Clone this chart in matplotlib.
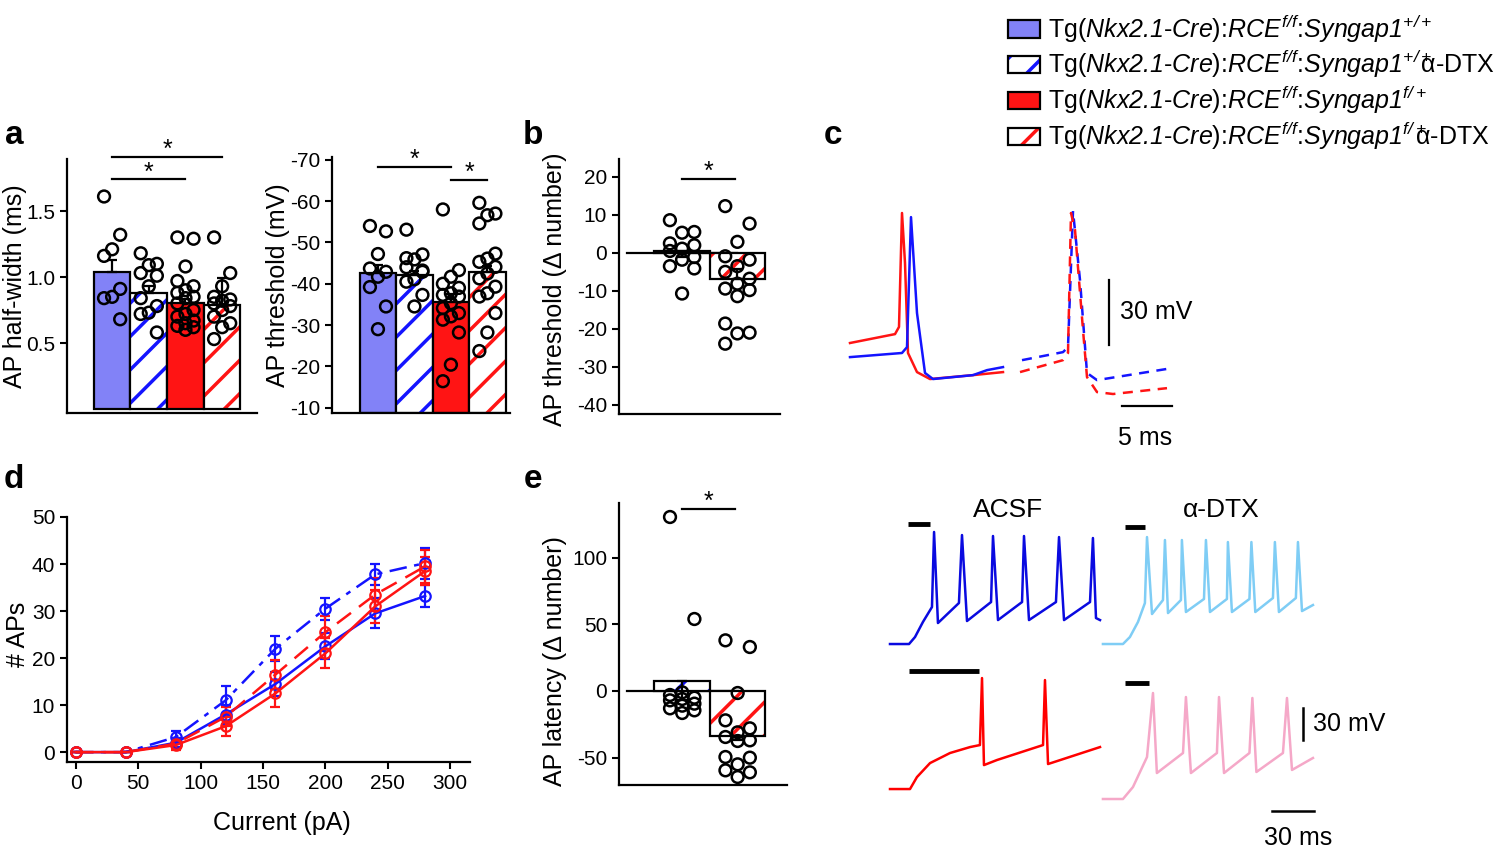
import numpy as np
import matplotlib.pyplot as plt
from matplotlib.patches import Patch

plt.rcParams['font.family'] = ['Liberation Sans', 'DejaVu Sans']
plt.rcParams['mathtext.fontset'] = 'custom'
plt.rcParams['mathtext.rm'] = 'Liberation Sans:italic'
plt.rcParams['mathtext.it'] = 'Liberation Sans:italic'
plt.rcParams['axes.unicode_minus'] = False
plt.rcParams['hatch.linewidth'] = 2.5

BLUE_FILL = '#8282f7'
BLUE = '#1414ff'
RED = '#ff1414'

# ---------------- data ----------------
# a: AP half-width (ms)
hw_mean = [1.04, 0.88, 0.80, 0.79]
hw_err = [0.09, 0.05, 0.03, 0.20]
hw_pts = [
    [1.61, 1.32, 1.21, 1.16, 0.91, 0.85, 0.84, 0.68],
    [1.18, 1.10, 1.09, 1.03, 1.01, 0.93, 0.84, 0.78, 0.73, 0.72, 0.58],
    [1.30, 1.29, 1.08, 0.97, 0.93, 0.90, 0.88, 0.85, 0.84, 0.80, 0.75, 0.72,
     0.70, 0.67, 0.65, 0.63, 0.62, 0.60],
    [1.30, 1.03, 0.93, 0.85, 0.83, 0.82, 0.80, 0.78, 0.75, 0.70, 0.65, 0.62, 0.53],
]
# a: AP threshold (mV)
th_mean = [-42.5, -42.1, -35.7, -42.8]
th_err = [-2.0, -1.0, -1.8, -1.5]
th_pts = [
    [-54.0, -52.7, -47.2, -43.7, -42.9, -41.7, -39.2, -34.5, -29.0],
    [-53.1, -47.1, -45.9, -44.0, -42.9, -41.1, -40.5, -37.3, -34.5, -46.2, -43.2],
    [-58.0, -43.3, -41.7, -40.0, -39.0, -37.7, -37.3, -36.9, -35.3, -34.1,
     -32.9, -32.1, -31.3, -28.2, -20.4, -16.4],
    [-59.6, -57.0, -56.6, -54.6, -47.3, -46.1, -45.3, -44.1, -42.5, -41.3,
     -39.3, -37.7, -36.9, -32.9, -28.2, -23.7],
]
# b: AP threshold (delta number)
dth_mean = [0.4, -6.8]
dth_err = [-1.5, 2.5]
dth_pts = [
    [8.6, 5.5, 5.3, 2.5, 2.0, 1.1, 0.5, -1.1, -1.8, -3.5, -4.1, -10.7],
    [12.3, 7.7, 2.9, -0.9, -1.8, -3.5, -5.0, -6.8, -8.1, -9.4, -9.8, -11.4,
     -18.6, -21.0, -21.2, -23.9],
]
# d: # APs vs current
current = [0, 40, 80, 120, 160, 200, 240, 280]
aps_wt = [0, 0, 2.0, 8.0, 14.5, 22.5, 29.5, 33.2]
aps_wt_err = [0, 0, 1.0, 2.0, 2.5, 2.8, 3.2, 2.3]
aps_wt_dtx = [0, 0, 3.2, 11.0, 22.0, 30.5, 37.8, 40.2]
aps_wt_dtx_err = [0, 0, 1.2, 3.0, 2.7, 2.3, 2.3, 3.3]
aps_het = [0, 0, 1.5, 5.5, 12.5, 21.0, 31.0, 38.5]
aps_het_err = [0, 0, 1.0, 2.0, 2.8, 3.2, 3.5, 3.0]
aps_het_dtx = [0, 0, 1.8, 7.5, 16.5, 25.5, 33.5, 39.5]
aps_het_dtx_err = [0, 0, 1.0, 2.0, 3.0, 3.5, 3.5, 3.5]
# e: AP latency (delta number)
lat_mean = [7.5, -33.7]
lat_err = [-14.5, -3.0]
lat_pts = [
    [130.5, 54.0, -1.0, -3.0, -5.0, -6.0, -7.0, -9.5, -11.0, -13.0, -14.5, -16.5],
    [38.0, 33.0, -1.5, -22.0, -28.0, -31.0, -34.5, -37.0, -37.5, -49.5, -50.0,
     -55.0, -59.5, -61.0, -64.5],
]

# c: single AP traces (ms, mV)
c_red_t = [1.0, 5.5, 5.9, 6.2, 6.5, 6.8, 7.7, 9.0, 13.3, 16.3]
c_red_v = [-46.1, -42.0, -38.7, 13.8, -9.2, -50.7, -59.5, -62.7, -60.9, -59.5]
c_blue_t = [1.0, 6.2, 6.7, 7.1, 7.7, 8.5, 9.3, 13.3, 14.7, 16.3]
c_blue_v = [-52.6, -50.7, -48.0, 11.9, -32.3, -59.9, -62.7, -60.9, -58.6, -57.2]
c_red_dtx_t = [18.0, 22.3, 22.8, 23.1, 23.5, 24.3, 24.7, 25.7, 27.3, 32.7]
c_red_dtx_v = [-59.5, -54.0, -50.7, 13.8, 6.0, -40.1, -61.8, -68.7, -69.6, -66.9]
c_blue_dtx_t = [18.2, 22.3, 22.8, 23.3, 24.0, 24.7, 25.7, 33.3]
c_blue_dtx_v = [-54.0, -50.3, -48.0, 14.7, -17.1, -59.9, -63.2, -57.6]

# firing traces (ms, mV relative to baseline)
acsf_wt_t = [0, 13.7, 18.0, 23.7, 30.2, 31.7, 34.5, 49.6, 51.8, 55.4, 72.7, 74.1,
             77.7, 95.0, 96.4, 100.0, 119.4, 121.6, 125.2, 143.9, 146.0, 148.2, 151.1]
acsf_wt_v = [0, 0, 6.6, 20.8, 34.9, 105.7, 19.8, 38.7, 102.8, 21.7, 39.6, 101.9,
             22.6, 39.6, 101.9, 22.6, 39.6, 100.9, 22.6, 39.6, 100.0, 24.5, 22.6]
dtx_wt_t = [0, 14.4, 19.4, 25.2, 30.2, 31.7, 35.3, 43.2, 44.6, 46.8, 56.1, 56.8,
            59.7, 72.7, 74.1, 77.0, 89.2, 89.9, 92.8, 105.4, 106.8, 109.6, 122.3,
            123.7, 126.6, 138.8, 140.3, 143.2, 151.1]
dtx_wt_v = [0, 0, 6.6, 20.8, 38.7, 100.9, 28.3, 41.5, 98.1, 29.2, 41.5, 98.1,
            30.2, 42.5, 98.1, 30.2, 42.5, 96.2, 30.2, 42.5, 96.2, 30.2, 43.4,
            96.2, 30.2, 43.4, 96.2, 31.1, 36.8]
acsf_het_t = [0, 14.4, 19.4, 28.8, 43.2, 57.6, 64.7, 66.2, 67.6, 77.0, 110.1,
              111.5, 113.7, 151.1]
acsf_het_v = [0, 0, 11.3, 24.5, 34.0, 39.6, 41.5, 104.7, 22.6, 27.4, 41.5,
              102.8, 23.6, 39.6]
dtx_het_t = [0, 14.4, 21.6, 31.7, 36.0, 38.8, 57.6, 59.7, 63.3, 82.0, 83.5, 87.1,
             105.4, 107.5, 110.4, 129.5, 132.4, 136.0, 151.1]
dtx_het_v = [0, 0, 11.3, 39.6, 100.0, 24.5, 43.4, 96.2, 24.5, 43.4, 96.2, 24.5,
             43.4, 95.3, 25.5, 43.4, 95.3, 27.4, 38.7]
# first-spike latency bars: start, end (ms), height (mV)
lat_bar_wt = (13.0, 28.8, 113.2)
lat_bar_wt_dtx = (15.8, 30.2, 110.4)
lat_bar_het = (13.7, 64.0, 111.3)
lat_bar_het_dtx = (15.8, 33.1, 109.4)

prefix = r'Tg($Nkx2.1$-$Cre$):$RCE^{f/f}$:'
labels = [
    prefix + r'$Syngap1^{+/+}$',
    prefix + r'$Syngap1^{+/+}\hspace{-1.0}$ α-DTX',
    prefix + r'$Syngap1^{f/+}$',
    prefix + r'$Syngap1^{f/+}\hspace{-1.0}$ α-DTX',
]
styles = [('fill', BLUE_FILL), ('hatch', BLUE), ('fill', RED), ('hatch', RED)]

# ---------------- helpers ----------------
W, H = 1500, 850


def rect(l, t, r, b):
    return [l / W, 1 - b / H, (r - l) / W, (b - t) / H]


def style(ax):
    for s in ['top', 'right']:
        ax.spines[s].set_visible(False)
    for s in ['left', 'bottom']:
        ax.spines[s].set_linewidth(1.6)
    ax.tick_params(direction='out', length=5, width=1.5, labelsize=15)


def draw_bars(ax, xs, means, errs, kinds, base=0.0):
    for x, m, e, (kind, c) in zip(xs, means, errs, kinds):
        h = m - base
        if kind == 'fill':
            ax.bar(x, h, 1, bottom=base, color=c, edgecolor='k', lw=1.6, zorder=2)
        else:
            ax.bar(x, h, 1, bottom=base, color='white', edgecolor=c, hatch='/',
                   lw=0, zorder=2)
            ax.bar(x, h, 1, bottom=base, fill=False, edgecolor='k', lw=1.6, zorder=2)
        yerr = [[0], [e]] if e > 0 else [[-e], [0]]
        ax.errorbar(x, m, yerr=yerr, color='k', lw=1.6, capsize=3.5,
                    capthick=1.6, zorder=4)


def draw_points(ax, xs, pts):
    for x, p in zip(xs, pts):
        offs = np.resize([-0.22, 0.22, 0.0], len(p))
        ax.scatter(x + offs, p, s=72, facecolors='none', edgecolors='k',
                   linewidths=1.8, zorder=3, clip_on=False)


def sig(ax, x0, x1, y):
    ax.plot([x0, x1], [y, y], color='k', lw=1.6, clip_on=False)
    ax.annotate('*', ((x0 + x1) / 2, y), xytext=(0, 5), textcoords='offset points',
                ha='center', va='center', fontsize=18, annotation_clip=False)


fig = plt.figure(figsize=(15, 8.5), dpi=100)

# ---------------- a (half-width) ----------------
ax = fig.add_axes(rect(67, 159, 257, 413))
style(ax)
x4 = np.arange(4)
draw_bars(ax, x4, hw_mean, hw_err, styles)
draw_points(ax, x4, hw_pts)
ax.set_xlim(-1.23, 3.95)
ax.set_ylim(-0.03, 1.894)
ax.set_xticks([])
ax.set_yticks([0.5, 1.0, 1.5])
ax.set_ylabel('AP half-width (ms)', fontsize=18)
ax.yaxis.set_label_coords(-0.21, 0.5)
sig(ax, 0, 3, 1.91)
sig(ax, 0, 2, 1.74)

# ---------------- a (threshold) ----------------
ax = fig.add_axes(rect(332, 157, 510, 413))
style(ax)
draw_bars(ax, x4, th_mean, th_err, styles, base=-8.7)
draw_points(ax, x4, th_pts)
ax.set_xlim(-1.26, 3.62)
ax.set_ylim(-8.7, -70.7)
ax.set_xticks([])
ax.set_yticks(np.arange(-70, -9, 10))
ax.set_ylabel('AP threshold (mV)', fontsize=18)
ax.yaxis.set_label_coords(-0.235, 0.5)
sig(ax, 0, 2, -68.3)
sig(ax, 2, 3, -65.2)

# ---------------- b ----------------
ax = fig.add_axes(rect(619, 159, 780, 414))
style(ax)
ax.plot([-1.0, 1.0], [0, 0], color='k', lw=1.6, zorder=1)
draw_bars(ax, [0, 1], dth_mean, dth_err, [styles[1], styles[3]])
draw_points(ax, [0, 1], dth_pts)
ax.set_xlim(-1.14, 1.77)
ax.set_ylim(-42.4, 24.7)
ax.set_xticks([])
ax.set_yticks(np.arange(-40, 21, 10))
ax.set_ylabel('AP threshold (Δ number)', fontsize=18)
ax.yaxis.set_label_coords(-0.32, 0.49)
sig(ax, 0, 0.95, 19.5)

# ---------------- d ----------------
ax = fig.add_axes(rect(67, 517, 470, 762))
style(ax)
series = [
    (aps_wt, aps_wt_err, BLUE, '-'),
    (aps_wt_dtx, aps_wt_dtx_err, BLUE, (0, (7, 3, 2, 3))),
    (aps_het, aps_het_err, RED, '-'),
    (aps_het_dtx, aps_het_dtx_err, RED, (0, (7, 4))),
]
for vals, errs, c, ls in series:
    ax.errorbar(current, vals, yerr=errs, color=c, ls=ls, lw=1.8, marker='o',
                ms=7.5, mfc='none', mew=1.6, capsize=3.5, capthick=1.6,
                elinewidth=1.6, clip_on=False)
ax.set_xlim(-7.2, 316)
ax.set_ylim(-2.1, 50)
ax.set_xticks(np.arange(0, 301, 50))
ax.set_yticks(np.arange(0, 51, 10))
ax.set_ylabel('# APs', fontsize=18)
ax.yaxis.set_label_coords(-0.092, 0.52)
ax.set_xlabel('Current (pA)', fontsize=18)
ax.xaxis.set_label_coords(0.533, -0.2)

# ---------------- e ----------------
ax = fig.add_axes(rect(619, 503, 787, 785))
style(ax)
ax.plot([-1.0, 1.0], [0, 0], color='k', lw=1.6, zorder=1)
draw_bars(ax, [0, 1], lat_mean, lat_err, [styles[1], styles[3]])
draw_points(ax, [0, 1], lat_pts)
ax.set_xlim(-1.14, 1.89)
ax.set_ylim(-70.5, 141)
ax.set_xticks([])
ax.set_yticks([-50, 0, 50, 100])
ax.set_ylabel('AP latency (Δ number)', fontsize=18)
ax.yaxis.set_label_coords(-0.31, 0.44)
sig(ax, 0, 0.95, 136.8)

# ---------------- c ----------------
ax = fig.add_axes(rect(840, 180, 1210, 460))
ax.axis('off')
ax.set_xlim(0, 37)
ax.set_ylim(-100, 29)
ax.plot(c_red_t, c_red_v, color=RED, lw=1.8)
ax.plot(c_blue_t, c_blue_v, color=BLUE, lw=1.8)
ax.plot(c_blue_dtx_t, c_blue_dtx_v, color=BLUE, lw=1.8, ls=(0, (4, 3)))
ax.plot(c_red_dtx_t, c_red_dtx_v, color=RED, lw=1.8, ls=(0, (4, 3)))
ax.plot([26.9, 26.9], [-17.1, -47.1], color='k', lw=1.6)
ax.text(28.0, -32, '30 mV', fontsize=18, va='center')
ax.plot([28.2, 33.2], [-75.1, -75.1], color='k', lw=1.6)
ax.text(30.5, -89.9, '5 ms', fontsize=18, ha='center', va='center')

# ---------------- firing traces ----------------
ax = fig.add_axes(rect(880, 490, 1420, 850))
ax.axis('off')
ax.set_xlim(-7.19, 381.3)
ax.set_ylim(-194.3, 145.3)
col = 153.2
traces = [
    (acsf_wt_t, acsf_wt_v, lat_bar_wt, 0.0, 0.0, '#0a0ae0'),
    (dtx_wt_t, dtx_wt_v, lat_bar_wt_dtx, col, 0.0, '#7fcdf5'),
    (acsf_het_t, acsf_het_v, lat_bar_het, 0.0, -136.8, '#ff0000'),
    (dtx_het_t, dtx_het_v, lat_bar_het_dtx, col, -146.2, '#f5a8c8'),
]
for t, v, lb, dx, dy, c in traces:
    ax.plot(np.array(t) + dx, np.array(v) + dy, color=c, lw=1.8)
    ax.plot([lb[0] + dx, lb[1] + dx], [lb[2] + dy, lb[2] + dy], color='k', lw=3.5,
            solid_capstyle='butt')
ax.text(84.9, 126.4, 'ACSF', fontsize=19, ha='center', va='center')
ax.text(84.9 + col, 126.4, 'α-DTX', fontsize=19, ha='center', va='center')
ax.plot([297.1, 297.1], [-60.4, -90.4], color='k', lw=1.8)
ax.text(304.3, -75.5, '30 mV', fontsize=18, va='center')
ax.plot([274.8, 304.8], [-157.5, -157.5], color='k', lw=1.8)
ax.text(293.5, -183, '30 ms', fontsize=18, ha='center', va='center')

# ---------------- legend ----------------
handles = [
    Patch(facecolor=BLUE_FILL, edgecolor='k', lw=1.6),
    (Patch(facecolor='white', edgecolor=BLUE, hatch='/', lw=0),
     Patch(facecolor='none', edgecolor='k', lw=1.6)),
    Patch(facecolor=RED, edgecolor='k', lw=1.6),
    (Patch(facecolor='white', edgecolor=RED, hatch='/', lw=0),
     Patch(facecolor='none', edgecolor='k', lw=1.6)),
]
fig.legend(handles, labels, loc='upper left', bbox_to_anchor=(995 / W, 1.0),
           frameon=False, fontsize=18, handlelength=1.3, handleheight=0.7,
           handletextpad=0.3, labelspacing=0.15, borderaxespad=0.1)

# ---------------- panel letters ----------------
for letter, px, py in [('a', 14, 135), ('b', 533, 135), ('c', 833, 135),
                       ('d', 14, 480), ('e', 533, 480)]:
    fig.text(px / W, 1 - py / H, letter, fontsize=24, fontweight='bold',
             ha='center', va='center')

fig.savefig('out.png', dpi=100)
